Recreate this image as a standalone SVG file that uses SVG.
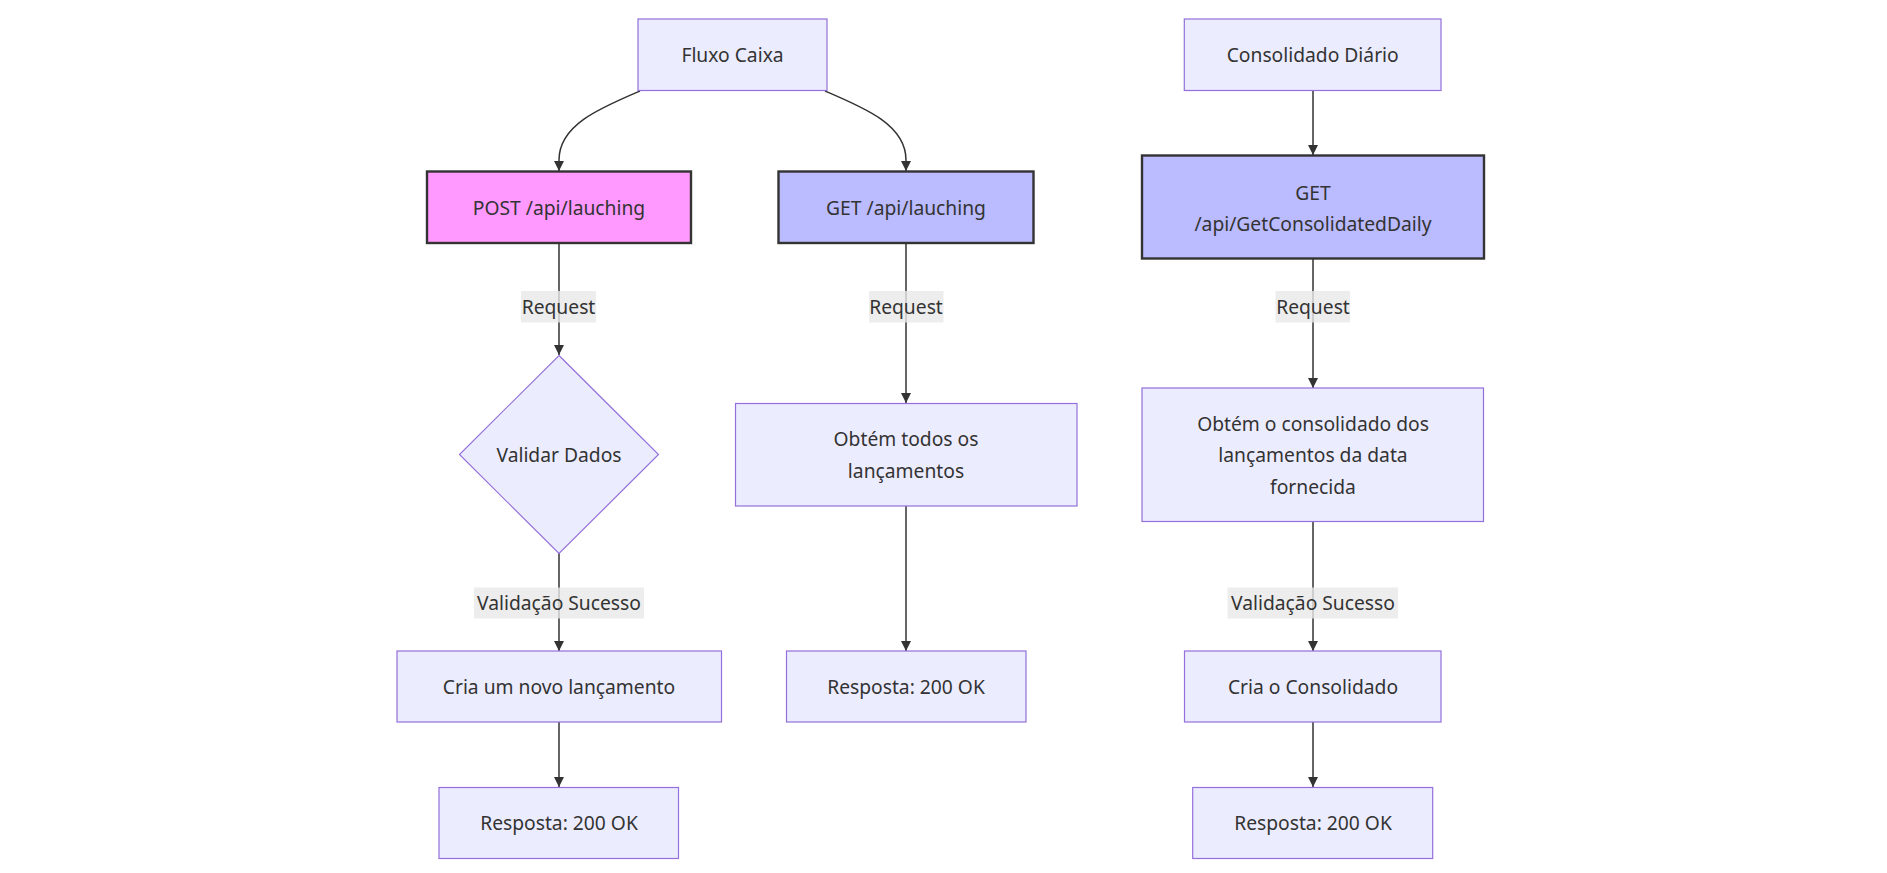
<svg xmlns="http://www.w3.org/2000/svg" width="1887" height="873" viewBox="0 0 1887 873">
<defs>
<marker id="arrow" viewBox="0 0 10 10" refX="10" refY="5" markerUnits="userSpaceOnUse" markerWidth="10" markerHeight="10" orient="auto">
<path d="M0,0 L10,5 L0,10 z" fill="#333"/>
</marker>
<style>
.node{fill:#ECECFF;stroke:#9370DB;stroke-width:1.2}
.post{fill:#ff99ff;stroke:#333;stroke-width:2.4}
.get{fill:#bbbbff;stroke:#333;stroke-width:2.4}
.edge{fill:none;stroke:#333;stroke-width:1.5;marker-end:url(#arrow)}
.lbl{fill:#e8e8e8;fill-opacity:0.8}
text{font-family:"Noto Sans","DejaVu Sans",sans-serif;font-size:19.25px;fill:#333;text-anchor:middle}
</style>
</defs>
<rect width="1887" height="873" fill="#ffffff"/>
<g id="edges">
<path class="edge" d="M640,91 C600,108 559,125 559,160 L559,171"/>
<path class="edge" d="M825,91 C865,108 906,125 906,160 L906,171"/>
<path class="edge" d="M1313,91 L1313,155"/>
<path class="edge" d="M559,243 L559,355"/>
<path class="edge" d="M906,243 L906,403"/>
<path class="edge" d="M1313,259 L1313,388"/>
<path class="edge" d="M559,553 L559,651"/>
<path class="edge" d="M906,506 L906,651"/>
<path class="edge" d="M1313,522 L1313,651"/>
<path class="edge" d="M559,722 L559,787"/>
<path class="edge" d="M1313,722 L1313,787"/>
<g id="edge-labels">
<rect class="lbl" x="521" y="291" width="75" height="31.5"/>
<text x="558.5" y="314">Request</text>
<rect class="lbl" x="869" y="291" width="74.5" height="31.5"/>
<text x="906" y="314">Request</text>
<rect class="lbl" x="1275.5" y="291" width="74.5" height="31.5"/>
<text x="1313" y="314">Request</text>
<rect class="lbl" x="474" y="587.5" width="170" height="31"/>
<text x="559" y="610">Validação Sucesso</text>
<rect class="lbl" x="1227.5" y="587.5" width="170.5" height="31"/>
<text x="1313" y="610">Validação Sucesso</text>
</g>
</g>
<g id="fluxo-caixa">
<rect class="node" x="638" y="19" width="189" height="71.5"/>
<text x="732.5" y="62">Fluxo Caixa</text>
</g>
<g id="consolidado-diario">
<rect class="node" x="1184.3" y="19" width="256.7" height="71.5"/>
<text x="1312.7" y="62">Consolidado Diário</text>
</g>
<g id="post-lauching">
<rect class="post" x="427" y="171.5" width="264" height="71.5"/>
<text x="559" y="214.5">POST /api/lauching</text>
</g>
<g id="get-lauching">
<rect class="get" x="778.5" y="171.5" width="255" height="71.5"/>
<text x="906" y="214.5">GET /api/lauching</text>
</g>
<g id="get-consolidated">
<rect class="get" x="1142" y="155.5" width="342" height="103"/>
<text x="1313" y="199.5">GET</text>
<text x="1313" y="230.5">/api/GetConsolidatedDaily</text>
</g>
<g id="validar-dados">
<polygon class="node" points="559,355.5 658.5,454.5 559,553.5 459.5,454.5"/>
<text x="559" y="462">Validar Dados</text>
</g>
<g id="obtem-todos">
<rect class="node" x="735.5" y="403.5" width="341.5" height="102.5"/>
<text x="906" y="446">Obtém todos os</text>
<text x="906" y="477.5">lançamentos</text>
</g>
<g id="obtem-consolidado">
<rect class="node" x="1142" y="388" width="341.5" height="133.5"/>
<text x="1313" y="431">Obtém o consolidado dos</text>
<text x="1313" y="462">lançamentos da data</text>
<text x="1313" y="493.5">fornecida</text>
</g>
<g id="cria-lancamento">
<rect class="node" x="397" y="651" width="324.5" height="71"/>
<text x="559" y="694">Cria um novo lançamento</text>
</g>
<g id="resposta-get">
<rect class="node" x="786.5" y="651" width="239.5" height="71"/>
<text x="906" y="694">Resposta: 200 OK</text>
</g>
<g id="cria-consolidado">
<rect class="node" x="1184.5" y="651" width="256.5" height="71"/>
<text x="1313" y="694">Cria o Consolidado</text>
</g>
<g id="resposta-post">
<rect class="node" x="439" y="787.5" width="239.5" height="71"/>
<text x="559" y="830">Resposta: 200 OK</text>
</g>
<g id="resposta-consolidado">
<rect class="node" x="1192.7" y="787.5" width="240" height="71"/>
<text x="1313" y="830">Resposta: 200 OK</text>
</g>
</svg>
